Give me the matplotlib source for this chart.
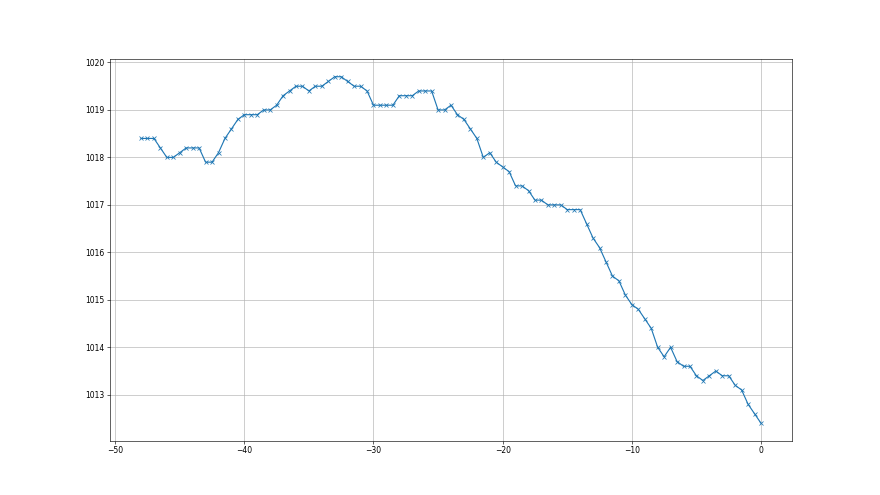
#!/usr/bin/env python3

import numpy as np
import matplotlib
matplotlib.use("Agg")
import matplotlib.pyplot as plt

# hours relative to now, one reading every half hour
hours = np.arange(-48, 0.5, 0.5)

# pressure readings (hPa)
pressure = [
    1018.4, 1018.4, 1018.4, 1018.2, 1018.0, 1018.0, 1018.1, 1018.2, 1018.2, 1018.2,
    1017.9, 1017.9, 1018.1, 1018.4, 1018.6, 1018.8, 1018.9, 1018.9, 1018.9, 1019.0,
    1019.0, 1019.1, 1019.3, 1019.4, 1019.5, 1019.5, 1019.4, 1019.5, 1019.5, 1019.6,
    1019.7, 1019.7, 1019.6, 1019.5, 1019.5, 1019.4, 1019.1, 1019.1, 1019.1, 1019.1,
    1019.3, 1019.3, 1019.3, 1019.4, 1019.4, 1019.4, 1019.0, 1019.0, 1019.1, 1018.9,
    1018.8, 1018.6, 1018.4, 1018.0, 1018.1, 1017.9, 1017.8, 1017.7, 1017.4, 1017.4,
    1017.3, 1017.1, 1017.1, 1017.0, 1017.0, 1017.0, 1016.9, 1016.9, 1016.9, 1016.6,
    1016.3, 1016.1, 1015.8, 1015.5, 1015.4, 1015.1, 1014.9, 1014.8, 1014.6, 1014.4,
    1014.0, 1013.8, 1014.0, 1013.7, 1013.6, 1013.6, 1013.4, 1013.3, 1013.4, 1013.5,
    1013.4, 1013.4, 1013.2, 1013.1, 1012.8, 1012.6, 1012.4,
]


def main():
    fig, ax = plt.subplots(figsize=(16, 9), dpi=55)
    ax.plot(hours, pressure, marker='x', color='#1f77b4')
    ax.grid(True)
    ax.ticklabel_format(axis='y', useOffset=False)
    fig.savefig('out.png', dpi=55)


if __name__ == "__main__":
    main()
